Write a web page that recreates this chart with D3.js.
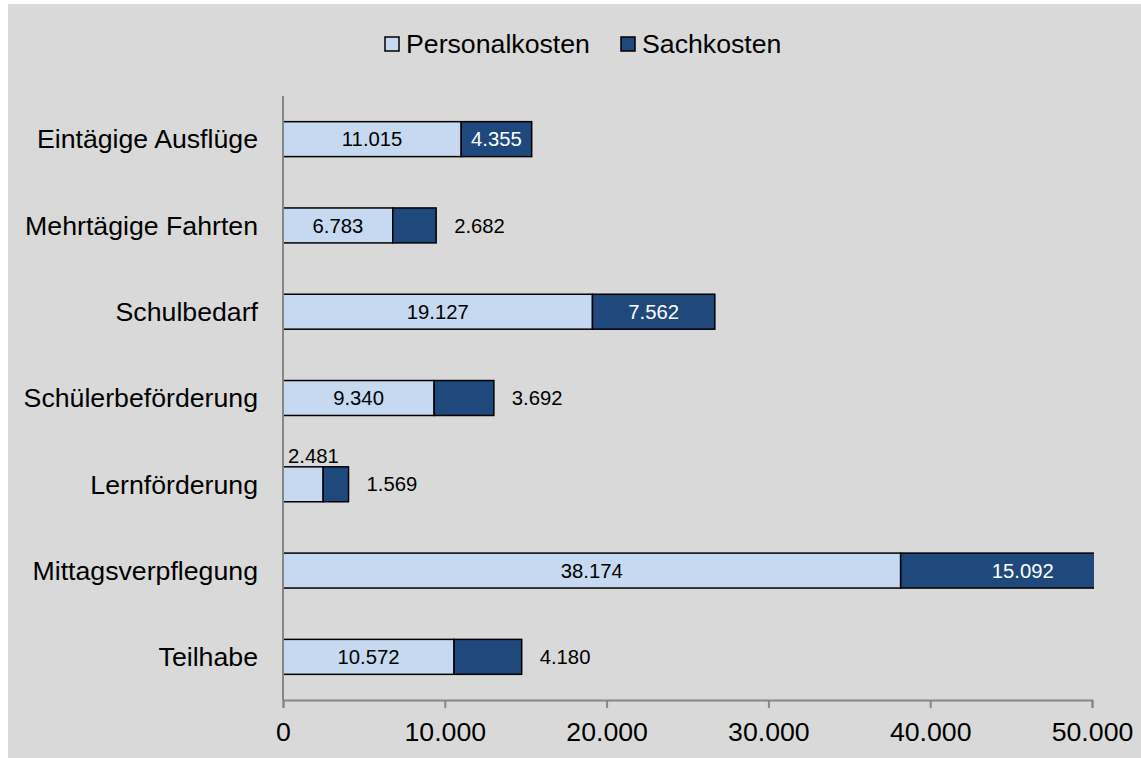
<!DOCTYPE html>
<html><head><meta charset="utf-8">
<script src="https://cdn.jsdelivr.net/npm/d3@7"></script>
<style>
html,body{margin:0;padding:0;background:#fff;}
svg{display:block;font-family:"Liberation Sans",Arial,sans-serif;}
</style></head>
<body>
<svg id="chart" width="1141" height="758"></svg>
<script>
const categories = ["Eintägige Ausflüge","Mehrtägige Fahrten","Schulbedarf","Schülerbeförderung","Lernförderung","Mittagsverpflegung","Teilhabe"];
const personalkosten = [11015, 6783, 19127, 9340, 2481, 38174, 10572];
const sachkosten = [4355, 2682, 7562, 3692, 1569, 15092, 4180];
const seriesNames = ["Personalkosten","Sachkosten"];
const xTicks = [0, 10000, 20000, 30000, 40000, 50000];
const personalLabelInside = [true, true, true, true, false, true, true];
const sachLabelInside = [true, false, true, false, false, true, false];
const colors = ["#c6d9f1", "#1f497d"];

const svg = d3.select("#chart");
svg.append("rect").attr("x",8).attr("y",4).attr("width",1133).attr("height",754).attr("fill","#d9d9d9");

const x = d3.scaleLinear().domain([0, 50000]).range([283, 1092]);
const y = d3.scaleBand().domain(categories).range([96, 700]).paddingInner(0.595).paddingOuter(0.2975);
const fmt = d3.formatLocale({decimal:",", thousands:".", grouping:[3], currency:["","€"]}).format(",.0f");

svg.append("clipPath").attr("id","plotclip").append("rect")
  .attr("x", 280).attr("y", 90).attr("width", x(50000) - 280 + 2).attr("height", 620);

const data = categories.map((c,i)=>({cat:c, p:personalkosten[i], s:sachkosten[i], i}));
const g = svg.append("g").attr("clip-path","url(#plotclip)");

g.selectAll("rect.p").data(data).join("rect").attr("class","p")
  .attr("x", x(0)).attr("y", d=>y(d.cat))
  .attr("width", d=>x(d.p)-x(0)).attr("height", y.bandwidth())
  .attr("fill", colors[0]).attr("stroke","#000").attr("stroke-width",1.5);
g.selectAll("rect.s").data(data).join("rect").attr("class","s")
  .attr("x", d=>x(d.p)).attr("y", d=>y(d.cat))
  .attr("width", d=>x(d.p+d.s)-x(d.p)).attr("height", y.bandwidth())
  .attr("fill", colors[1]).attr("stroke","#000").attr("stroke-width",1.5);

const lab = svg.append("g").attr("font-size","20.3px");
data.forEach(d=>{
  const cy = y(d.cat) + y.bandwidth()/2;
  if (personalLabelInside[d.i]) {
    lab.append("text").attr("x",(x(0)+x(d.p))/2).attr("y",cy).attr("dy","0.35em")
      .attr("text-anchor","middle").attr("fill","#000").text(fmt(d.p));
  } else {
    lab.append("text").attr("x",x(0)+5).attr("y",y(d.cat)-4)
      .attr("text-anchor","start").attr("fill","#000").text(fmt(d.p));
  }
  if (sachLabelInside[d.i]) {
    lab.append("text").attr("x",(x(d.p)+x(d.p+d.s))/2).attr("y",cy).attr("dy","0.35em")
      .attr("text-anchor","middle").attr("fill","#fff").text(fmt(d.s));
  } else {
    lab.append("text").attr("x",x(d.p+d.s)+18).attr("y",cy).attr("dy","0.35em")
      .attr("text-anchor","start").attr("fill","#000").text(fmt(d.s));
  }
});

svg.append("line").attr("x1",x(0)).attr("x2",x(0)).attr("y1",96).attr("y2",700)
  .attr("stroke","#868686").attr("stroke-width",2);
svg.append("g").selectAll("text").data(categories).join("text")
  .attr("x", x(0)-25).attr("y", d=>y(d)+y.bandwidth()/2).attr("dy","0.35em")
  .attr("text-anchor","end").attr("font-size","26.7px").attr("fill","#000").text(d=>d);

const xAxis = svg.append("g").attr("transform","translate(0,700)")
  .call(d3.axisBottom(x).tickValues(xTicks).tickFormat(fmt).tickSize(8).tickPadding(14));
xAxis.select(".domain").attr("stroke","#868686").attr("stroke-width",2);
xAxis.selectAll(".tick line").attr("stroke","#868686").attr("stroke-width",2);
xAxis.selectAll(".tick text").attr("font-size","26.7px").attr("fill","#000")
  .attr("font-family","\"Liberation Sans\",Arial,sans-serif");

const legX = [385, 621];
const leg = svg.append("g");
seriesNames.forEach((n,i)=>{
  leg.append("rect").attr("x",legX[i]).attr("y",37).attr("width",14).attr("height",14)
    .attr("fill",colors[i]).attr("stroke","#000").attr("stroke-width",1.5);
  leg.append("text").attr("x",legX[i]+21).attr("y",44).attr("dy","0.35em")
    .attr("font-size","26.7px").attr("fill","#000").text(n);
});
</script>
</body></html>
